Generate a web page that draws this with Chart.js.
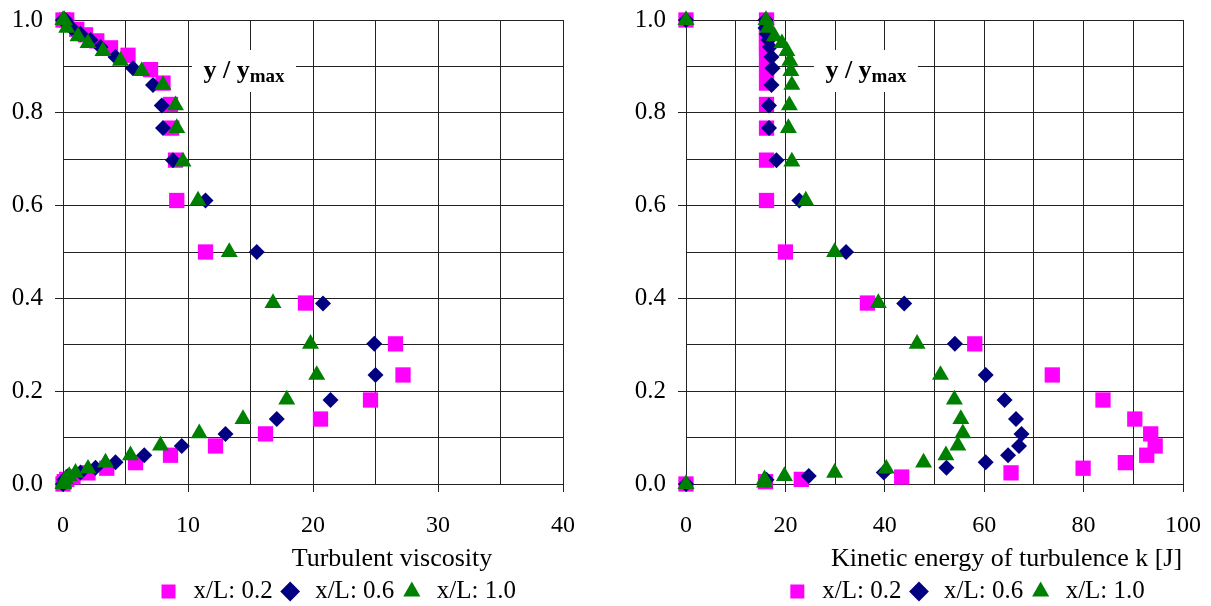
<!DOCTYPE html>
<html>
<head>
<meta charset="utf-8">
<title>Turbulent viscosity and kinetic energy profiles</title>
<script src="https://cdn.jsdelivr.net/npm/chart.js@4.4.1/dist/chart.umd.min.js"></script>
<style>
  html, body { margin: 0; padding: 0; background: #fff; overflow: hidden; }
  body { width: 1211px; height: 606px; position: relative; }
  .chart-box { position: absolute; top: 0; height: 606px; }
  #boxVisc { left: 0; width: 605px; }
  #boxKin { left: 605px; width: 606px; }
</style>
</head>
<body>
<div class="chart-box" id="boxVisc"><canvas id="chartVisc"></canvas></div>
<div class="chart-box" id="boxKin"><canvas id="chartKin"></canvas></div>
<script>
// Series labels
const seriesLabels = ['x/L: 0.2', 'x/L: 0.6', 'x/L: 1.0'];

// y / ymax for each series (same points in both charts)
const yL02 = [1.0, 1.0, 0.98, 0.968, 0.955, 0.94, 0.924, 0.893, 0.864, 0.818, 0.767, 0.698, 0.611,
  0.5, 0.39, 0.302, 0.235, 0.181, 0.14, 0.108, 0.082, 0.062, 0.046, 0.034, 0.024, 0.015, 0.01, 0.005, 0];
const yL06 = [1.0, 1.0, 0.983, 0.97, 0.957, 0.942, 0.92, 0.896, 0.86, 0.816, 0.767, 0.698, 0.611,
  0.5, 0.389, 0.302, 0.235, 0.181, 0.14, 0.108, 0.082, 0.062, 0.047, 0.035, 0.025, 0.017, 0.009, 0];
const yL10 = [1.0, 1.0, 0.983, 0.965, 0.95, 0.933, 0.912, 0.89, 0.86, 0.816, 0.767, 0.695, 0.611,
  0.5, 0.39, 0.302, 0.235, 0.182, 0.14, 0.109, 0.083, 0.062, 0.046, 0.033, 0.024, 0.017, 0.01, 0.003, 0];

// Turbulent viscosity
const viscL02 = [0, 0.3, 1.1, 1.8, 2.7, 3.8, 5.2, 7.0, 8.0, 8.6, 8.7, 9.0, 9.1,
  11.4, 19.4, 26.6, 27.2, 24.6, 20.6, 16.2, 12.2, 8.6, 5.8, 3.5, 2.0, 0.8, 0.3, 0.1, 0];
const viscL06 = [0, 0.2, 0.7, 1.4, 2.2, 3.0, 4.2, 5.6, 7.2, 7.9, 8.0, 8.8, 11.4,
  15.5, 20.8, 24.9, 25.0, 21.4, 17.1, 13.0, 9.5, 6.5, 4.2, 2.6, 1.4, 0.4, 0.1, 0];
const viscL10 = [0, 0.1, 0.3, 1.2, 2.0, 3.2, 4.6, 6.3, 8.0, 9.0, 9.1, 9.6, 10.8,
  13.3, 16.8, 19.8, 20.3, 17.9, 14.4, 10.9, 7.8, 5.4, 3.4, 2.0, 1.0, 0.5, 0.2, 0.05, 0];

// Kinetic energy of turbulence k [J]
const kinL02 = [0, 16.2, 16.2, 16.2, 16.2, 16.2, 16.2, 16.2, 16.2, 16.2, 16.2, 16.2, 16.2,
  20.0, 36.5, 58.1, 73.7, 83.9, 90.3, 93.5, 94.4, 92.7, 88.4, 79.9, 65.4, 43.4, 23.2, 16.0, 0];
const kinL06 = [0, 16.0, 16.0, 16.3, 16.6, 16.9, 17.2, 17.4, 17.2, 16.7, 16.7, 18.2, 22.8,
  32.2, 43.9, 54.1, 60.3, 64.1, 66.4, 67.5, 67.0, 64.8, 60.3, 52.4, 39.8, 24.7, 16.2, 0];
const kinL10 = [0, 16.1, 16.5, 17.8, 19.3, 20.3, 20.9, 21.1, 21.3, 20.8, 20.6, 21.3, 24.1,
  29.9, 38.7, 46.5, 51.2, 54.0, 55.3, 55.7, 54.7, 52.3, 47.8, 40.3, 29.9, 19.8, 15.8, 15.8, 0];

(function () {
  'use strict';

  const pinkColor = '#FF00FF',
    navyColor = '#000080',
    greenColor = '#008000',
    gridColor = '#222222',
    textColor = '#000000',
    fontFamily = "'Liberation Serif', 'Times New Roman', serif";

  function toPoints(xs, ys) {
    return xs.map(function (x, i) {
      return { x: x, y: ys[i] };
    });
  }

  function makeDatasets(x02, x06, x10) {
    return [
      {
        label: seriesLabels[0],
        data: toPoints(x02, yL02),
        pointStyle: 'rect',
        pointRadius: 10.8,
        backgroundColor: pinkColor,
        borderColor: pinkColor,
        borderWidth: 0,
        order: 3,
        clip: false
      },
      {
        label: seriesLabels[1],
        data: toPoints(x06, yL06),
        pointStyle: 'rectRot',
        pointRadius: 8,
        backgroundColor: navyColor,
        borderColor: navyColor,
        borderWidth: 0,
        order: 2,
        clip: false
      },
      {
        label: seriesLabels[2],
        data: toPoints(x10, yL10),
        pointStyle: 'triangle',
        pointRadius: 9.8,
        backgroundColor: greenColor,
        borderColor: greenColor,
        borderWidth: 0,
        order: 1,
        clip: false
      }
    ];
  }

  // y / ymax box inside the plot, x axis title, legend moved off centre like the original
  const labelPlugin = {
    id: 'axisLabels',
    afterLayout: function (chart, args, opts) {
      const lg = chart.legend,
        a = chart.chartArea;
      if (!lg) return;
      const shift = a.left + a.width * opts.legendCenter - (lg.left + lg.right) / 2;
      lg.left += shift;
      lg.right += shift;
    },
    afterDraw: function (chart, args, opts) {
      const ctx = chart.ctx,
        a = chart.chartArea;
      ctx.save();

      const cx = a.left + a.width * 0.362,
        bw = 104,
        bh = 42,
        by = a.top + 30;
      ctx.fillStyle = '#fff';
      ctx.fillRect(cx - bw / 2, by, bw, bh);

      ctx.fillStyle = textColor;
      ctx.textBaseline = 'alphabetic';
      ctx.textAlign = 'left';
      const mainFont = 'bold 26px ' + fontFamily,
        subFont = 'bold 19px ' + fontFamily;
      ctx.font = mainFont;
      const w1 = ctx.measureText('y / y').width;
      ctx.font = subFont;
      const w2 = ctx.measureText('max').width;
      const tx = cx - (w1 + w2) / 2,
        base = by + bh / 2 + 7;
      ctx.font = mainFont;
      ctx.fillText('y / y', tx, base);
      ctx.font = subFont;
      ctx.fillText('max', tx + w1, base + 4);

      ctx.font = '26px ' + fontFamily;
      ctx.textAlign = 'center';
      ctx.fillText(opts.title, a.left + a.width * opts.center, a.bottom + 82);
      ctx.restore();
    }
  };

  function makeChart(canvasId, datasets, xMax, xStep, xLabelStep, yAxisWidth, padRight, title, center, legendCenter) {
    const el = document.getElementById(canvasId);
    return new Chart(el, {
      type: 'scatter',
      data: { datasets: datasets },
      plugins: [labelPlugin],
      options: {
        responsive: true,
        maintainAspectRatio: false,
        animation: false,
        events: [],
        layout: {
          padding: { top: 20, right: padRight, left: 0, bottom: -8 }
        },
        plugins: {
          tooltip: { enabled: false },
          axisLabels: { title: title, center: center, legendCenter: legendCenter },
          legend: {
            position: 'bottom',
            reverse: true,
            labels: {
              usePointStyle: true,
              boxHeight: 14,
              padding: 5,
              color: textColor,
              font: { family: fontFamily, size: 25 }
            }
          }
        },
        scales: {
          x: {
            type: 'linear',
            min: 0,
            max: xMax,
            afterFit: function (scale) {
              scale.height = 90;
              scale.paddingLeft = 0;
              scale.paddingRight = 0;
            },
            grid: {
              color: gridColor,
              tickLength: 8,
              tickColor: function (c) {
                return c.tick && c.tick.value % xLabelStep === 0 ? gridColor : 'rgba(0,0,0,0)';
              }
            },
            border: { color: gridColor },
            ticks: {
              stepSize: xStep,
              autoSkip: false,
              maxRotation: 0,
              padding: 19,
              color: textColor,
              font: { family: fontFamily, size: 24 },
              callback: function (value) {
                return value % xLabelStep === 0 ? value : '';
              }
            }
          },
          y: {
            type: 'linear',
            min: 0,
            max: 1,
            afterFit: function (scale) {
              scale.width = yAxisWidth;
              scale.paddingTop = 0;
              scale.paddingBottom = 0;
            },
            grid: {
              color: gridColor,
              tickLength: 8,
              tickColor: function (c) {
                return c.tick && Math.round(c.tick.value * 10) % 2 === 0 ? gridColor : 'rgba(0,0,0,0)';
              }
            },
            border: { color: gridColor },
            ticks: {
              stepSize: 0.1,
              autoSkip: false,
              padding: 12,
              color: textColor,
              font: { family: fontFamily, size: 25 },
              callback: function (value) {
                return Math.round(value * 10) % 2 === 0 ? value.toFixed(1) : '';
              }
            }
          }
        }
      }
    });
  }

  // Turbulent viscosity
  makeChart('chartVisc', makeDatasets(viscL02, viscL06, viscL10), 40, 5, 10, 63, 42,
    'Turbulent viscosity', 0.658, 0.546);

  // Kinetic energy of turbulence
  makeChart('chartKin', makeDatasets(kinL02, kinL06, kinL10), 100, 10, 20, 81, 28,
    'Kinetic energy of turbulence k [J]', 0.645, 0.561);
})();
</script>
</body>
</html>
